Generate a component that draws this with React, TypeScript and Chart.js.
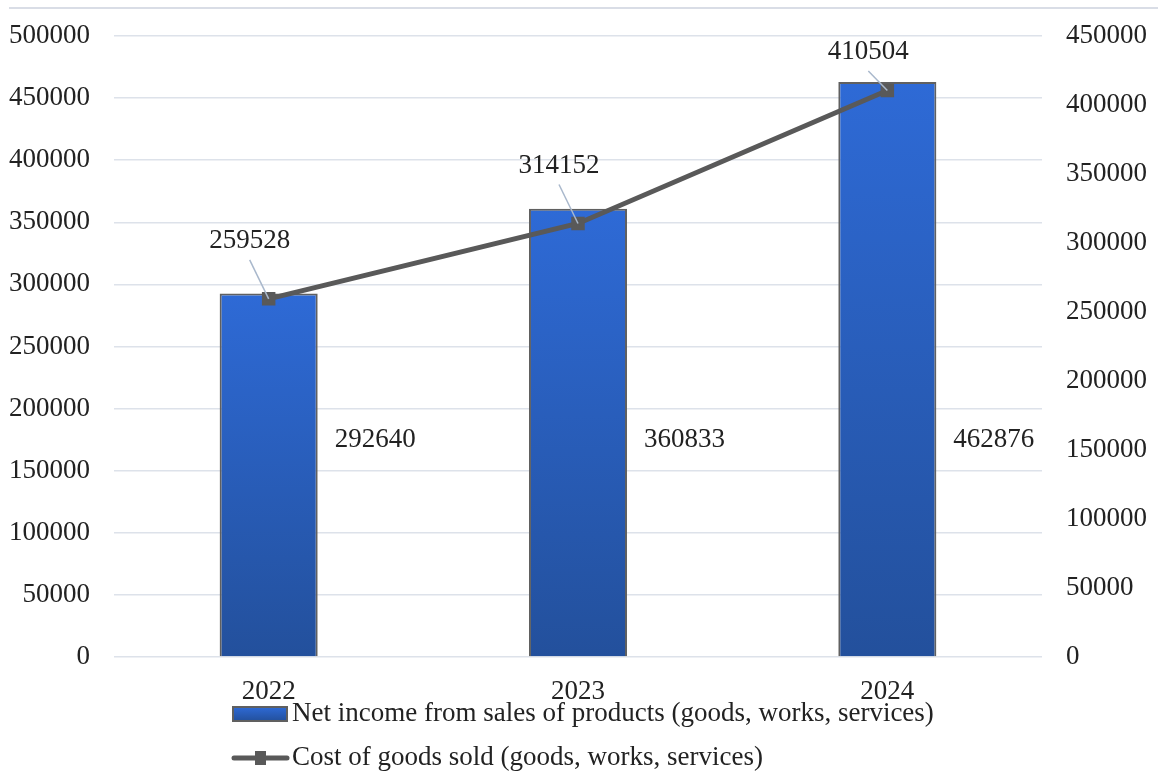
import React, { useEffect, useRef } from 'react';
import { Chart, registerables } from 'chart.js';

Chart.register(...registerables);

const categories = ['2022', '2023', '2024'];
const netIncome = [292640, 360833, 462876];
const costOfGoods = [259528, 314152, 410504];
const seriesNames = [
  'Net income from sales of products (goods, works, services)',
  'Cost of goods sold (goods, works, services)',
];
const leftAxisMax = 500000;
const rightAxisMax = 450000;
const tickStep = 50000;

const FONT = '"Liberation Serif", "Times New Roman", serif';
const FONT_SIZE = 27;
const TEXT = '#222222';
const BAR_TOP = '#2e6ad6';
const BAR_BOTTOM = '#23509c';
const BAR_BORDER = '#606060';
const LINE = '#595959';
const GRID = '#dde2ea';
const LEADER = '#a9b8cc';

const overlayPlugin = {
  id: 'overlay',
  beforeDraw(chart: any) {
    const ctx = chart.ctx;
    ctx.save();
    ctx.strokeStyle = '#d9dde6';
    ctx.lineWidth = 2;
    ctx.beginPath();
    ctx.moveTo(9, 8);
    ctx.lineTo(chart.width, 8);
    ctx.stroke();
    ctx.restore();
  },
  afterDatasetsDraw(chart: any) {
    const ctx = chart.ctx;
    const area = chart.chartArea;
    ctx.save();
    ctx.font = `${FONT_SIZE}px ${FONT}`;
    ctx.fillStyle = TEXT;
    const barMeta = chart.getDatasetMeta(0);
    barMeta.data.forEach((el: any, i: number) => {
      ctx.textAlign = 'left';
      ctx.textBaseline = 'middle';
      const x = el.x + el.width / 2 + 17;
      const y = area.bottom - 0.35 * (area.bottom - area.top);
      ctx.fillText(String(netIncome[i]), x, y);
    });
    const lineMeta = chart.getDatasetMeta(1);
    lineMeta.data.forEach((pt: any, i: number) => {
      const lx = pt.x - 19;
      const ly = Math.max(pt.y - 58, area.top + 16);
      ctx.strokeStyle = LEADER;
      ctx.lineWidth = 1.5;
      ctx.beginPath();
      ctx.moveTo(lx, ly + 19);
      ctx.lineTo(pt.x, pt.y);
      ctx.stroke();
      ctx.textAlign = 'center';
      ctx.textBaseline = 'middle';
      ctx.fillStyle = TEXT;
      ctx.fillText(String(costOfGoods[i]), lx, ly);
    });
    ctx.restore();
  },
  afterDraw(chart: any) {
    const ctx = chart.ctx;
    const area = chart.chartArea;
    const x0 = area.left + 119;
    const y1 = area.bottom + 57;
    const y2 = area.bottom + 101;
    ctx.save();
    const g = ctx.createLinearGradient(0, y1 - 7, 0, y1 + 7);
    g.addColorStop(0, BAR_TOP);
    g.addColorStop(1, BAR_BOTTOM);
    ctx.fillStyle = g;
    ctx.fillRect(x0, y1 - 7, 54, 14);
    ctx.strokeStyle = BAR_BORDER;
    ctx.lineWidth = 2;
    ctx.strokeRect(x0, y1 - 7, 54, 14);
    ctx.strokeStyle = LINE;
    ctx.lineWidth = 5;
    ctx.lineCap = 'round';
    ctx.beginPath();
    ctx.moveTo(x0 + 1, y2);
    ctx.lineTo(x0 + 54, y2);
    ctx.stroke();
    ctx.fillStyle = LINE;
    ctx.fillRect(x0 + 22, y2 - 7, 11, 14);
    ctx.font = `${FONT_SIZE}px ${FONT}`;
    ctx.fillStyle = TEXT;
    ctx.textAlign = 'left';
    ctx.textBaseline = 'middle';
    ctx.fillText(seriesNames[0], x0 + 59, y1);
    ctx.fillText(seriesNames[1], x0 + 59, y2);
    ctx.restore();
  },
};

const plainTick = (v: any) => String(v);

export default function App() {
  const ref = useRef<HTMLCanvasElement | null>(null);

  useEffect(() => {
    document.body.style.margin = '0';
    const canvas = ref.current;
    if (!canvas) return;
    const chart = new Chart(canvas, {
      type: 'bar',
      data: {
        labels: categories,
        datasets: [
          {
            type: 'bar',
            label: seriesNames[0],
            data: netIncome,
            yAxisID: 'y',
            order: 1,
            backgroundColor: (c: any) => {
              const ch = c.chart;
              if (!ch.chartArea || c.raw == null) return BAR_TOP;
              const top = ch.scales.y.getPixelForValue(c.raw);
              const bottom = ch.scales.y.getPixelForValue(0);
              const g = ch.ctx.createLinearGradient(0, top, 0, bottom);
              g.addColorStop(0, BAR_TOP);
              g.addColorStop(1, BAR_BOTTOM);
              return g;
            },
            borderColor: BAR_BORDER,
            borderWidth: 2,
            barPercentage: 0.317,
            categoryPercentage: 1,
          } as any,
          {
            type: 'line',
            label: seriesNames[1],
            data: costOfGoods,
            yAxisID: 'y1',
            order: 0,
            borderColor: LINE,
            borderWidth: 5,
            pointStyle: 'rect',
            pointRadius: 6,
            pointBackgroundColor: LINE,
            pointBorderColor: LINE,
            tension: 0,
          } as any,
        ],
      },
      options: {
        animation: false,
        responsive: false,
        maintainAspectRatio: false,
        layout: { padding: { top: 36, left: 0, right: 0, bottom: 0 } },
        plugins: {
          legend: { display: false },
          tooltip: { enabled: false },
        },
        scales: {
          x: {
            grid: { display: false },
            border: { display: false },
            ticks: {
              font: { family: FONT, size: FONT_SIZE },
              color: TEXT,
              padding: 11,
            },
            afterFit: (s: any) => { s.height = 114; s.paddingLeft = 0; s.paddingRight = 0; },
          },
          y: {
            position: 'left',
            min: 0,
            max: leftAxisMax,
            ticks: {
              stepSize: tickStep,
              font: { family: FONT, size: FONT_SIZE },
              color: TEXT,
              padding: 24,
              callback: plainTick,
            },
            grid: { color: GRID, lineWidth: 1.5, drawTicks: false },
            border: { display: false },
            afterFit: (s: any) => { s.width = 114; s.paddingTop = 0; s.paddingBottom = 0; },
          },
          y1: {
            position: 'right',
            min: 0,
            max: rightAxisMax,
            ticks: {
              stepSize: tickStep,
              font: { family: FONT, size: FONT_SIZE },
              color: TEXT,
              padding: 24,
              callback: plainTick,
            },
            grid: { display: false, drawTicks: false },
            border: { display: false },
            afterFit: (s: any) => { s.width = 116; s.paddingTop = 0; s.paddingBottom = 0; },
          },
        },
      } as any,
      plugins: [overlayPlugin],
    });
    return () => chart.destroy();
  }, []);

  return (
    <div style={{ width: 1158, height: 771 }}>
      <canvas ref={ref} width={1158} height={771} style={{ width: 1158, height: 771, display: 'block' }} />
    </div>
  );
}
